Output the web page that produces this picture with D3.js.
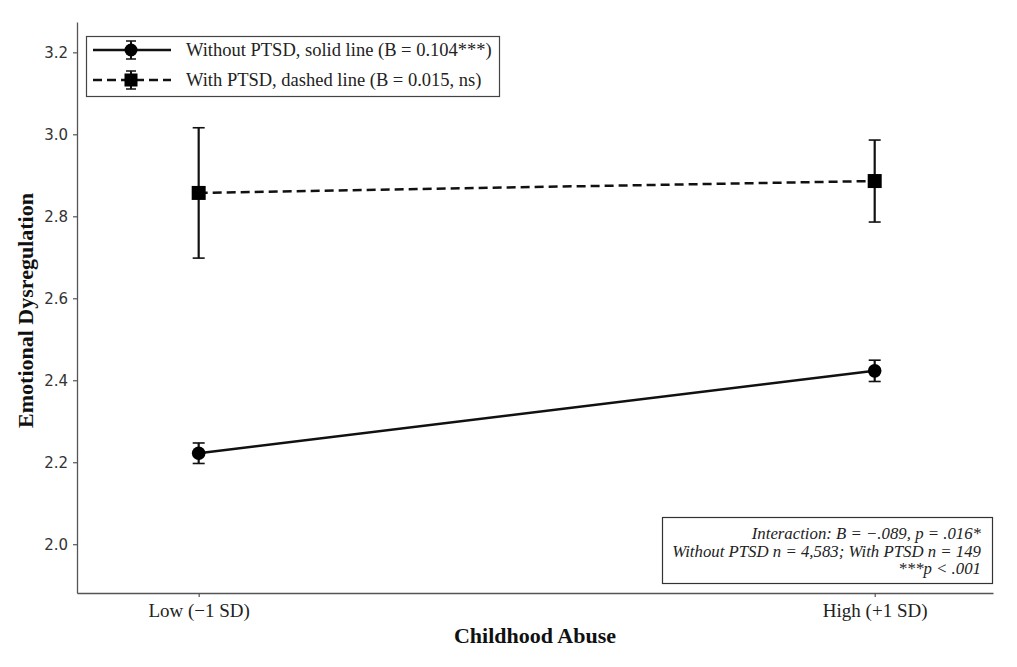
<!DOCTYPE html>
<html><head><meta charset="utf-8">
<script src="https://cdn.jsdelivr.net/npm/d3@7"></script>
<style>body{margin:0;background:#fff}</style>
</head><body>
<svg id="c" width="1017" height="667"></svg>
<script>
const categories = ["Low (\u22121 SD)", "High (+1 SD)"];
const xValues = [-1, 1];
const withoutPTSD = [2.222, 2.423];
const withoutPTSDErr = [0.025, 0.026];
const withPTSD = [2.857, 2.886];
const withPTSDErr = [0.159, 0.100];
const yTicks = [2.0, 2.2, 2.4, 2.6, 2.8, 3.0, 3.2];
const legendLabels = ["Without PTSD, solid line (B = 0.104***)", "With PTSD, dashed line (B = 0.015, ns)"];
const noteLines = ["Interaction: B = \u2212.089, p = .016*", "Without PTSD n = 4,583; With PTSD n = 149", "***p < .001"];

const svg = d3.select("#c");
const L = 77, R = 993, T = 22, B = 593;
const x = d3.scaleLinear().domain([-1.36, 1.35]).range([L, R]);
const y = d3.scaleLinear().domain([1.881, 3.274]).range([B, T]);
const serif = "'Liberation Serif','Times New Roman',serif";
const sans = "'DejaVu Sans',sans-serif";

// axes
const yAxis = svg.append("g").attr("transform", `translate(${L},0)`)
  .call(d3.axisLeft(y).tickValues(yTicks).tickFormat(d3.format(".1f")).tickSize(4).tickSizeOuter(0));
yAxis.select(".domain").attr("stroke", "#555").attr("stroke-width", 1.3);
yAxis.selectAll(".tick line").attr("stroke", "#555").attr("stroke-width", 1.2);
yAxis.selectAll(".tick text").attr("font-family", sans).attr("font-size", 15).attr("fill", "#333").attr("x", -9);

const xAxis = svg.append("g").attr("transform", `translate(0,${B})`)
  .call(d3.axisBottom(x).tickValues(xValues).tickFormat((d, i) => categories[i]).tickSize(4).tickSizeOuter(0));
xAxis.select(".domain").attr("stroke", "#555").attr("stroke-width", 1.3);
xAxis.selectAll(".tick line").attr("stroke", "#555").attr("stroke-width", 1.2);
xAxis.selectAll(".tick text").attr("font-family", serif).attr("font-size", 19).attr("fill", "#222").attr("y", 11);

// axis titles
svg.append("text").attr("x", (L + R) / 2).attr("y", 643).attr("text-anchor", "middle")
  .attr("font-family", serif).attr("font-weight", "bold").attr("font-size", 22).attr("fill", "#111").text("Childhood Abuse");
svg.append("text").attr("transform", `translate(33,${(T + B) / 2 + 3}) rotate(-90)`).attr("text-anchor", "middle")
  .attr("font-family", serif).attr("font-weight", "bold").attr("font-size", 22).attr("fill", "#111").text("Emotional Dysregulation");

const line = d3.line().x((d, i) => x(xValues[i])).y(d => y(d));
function drawSeries(vals, errs, dashed, marker) {
  const g = svg.append("g");
  vals.forEach((v, i) => {
    const cx = x(xValues[i]);
    g.append("line").attr("x1", cx).attr("x2", cx).attr("y1", y(v - errs[i])).attr("y2", y(v + errs[i]))
      .attr("stroke", "#111").attr("stroke-width", 2.2);
    [v - errs[i], v + errs[i]].forEach(e => g.append("line").attr("x1", cx - 6).attr("x2", cx + 6)
      .attr("y1", y(e)).attr("y2", y(e)).attr("stroke", "#111").attr("stroke-width", 1.6));
  });
  g.append("path").datum(vals).attr("d", line).attr("fill", "none").attr("stroke", "#111")
    .attr("stroke-width", 2.5).attr("stroke-dasharray", dashed ? "9,5" : null);
  vals.forEach((v, i) => {
    const cx = x(xValues[i]), cy = y(v);
    if (marker === "circle") g.append("circle").attr("cx", cx).attr("cy", cy).attr("r", 6.8).attr("fill", "#000");
    else g.append("rect").attr("x", cx - 7).attr("y", cy - 7).attr("width", 14).attr("height", 14).attr("fill", "#000");
  });
}
drawSeries(withoutPTSD, withoutPTSDErr, false, "circle");
drawSeries(withPTSD, withPTSDErr, true, "square");

// legend
const lg = svg.append("g");
lg.append("rect").attr("x", 86.5).attr("y", 36.5).attr("width", 413).attr("height", 60)
  .attr("fill", "#fff").attr("stroke", "#444").attr("stroke-width", 1.2);
[[50, false, "circle"], [80, true, "square"]].forEach(([ly, dashed, m], i) => {
  lg.append("line").attr("x1", 93).attr("x2", 171).attr("y1", ly).attr("y2", ly).attr("stroke", "#111")
    .attr("stroke-width", 2.5).attr("stroke-dasharray", dashed ? "9,5" : null);
  lg.append("line").attr("x1", 131).attr("x2", 131).attr("y1", ly - 9).attr("y2", ly + 9).attr("stroke", "#111").attr("stroke-width", 2);
  [ly - 9, ly + 9].forEach(e => lg.append("line").attr("x1", 126).attr("x2", 136).attr("y1", e).attr("y2", e).attr("stroke", "#111").attr("stroke-width", 1.5));
  if (m === "circle") lg.append("circle").attr("cx", 131).attr("cy", ly).attr("r", 6.5).attr("fill", "#000");
  else lg.append("rect").attr("x", 124.5).attr("y", ly - 6.5).attr("width", 13).attr("height", 13).attr("fill", "#000");
  lg.append("text").attr("x", 186).attr("y", ly + 6).attr("font-family", serif).attr("font-size", 18.5)
    .attr("fill", "#222").text(legendLabels[i]);
});

// note box
const ng = svg.append("g");
ng.append("rect").attr("x", 662.5).attr("y", 517.5).attr("width", 330).attr("height", 66)
  .attr("fill", "#fff").attr("stroke", "#333").attr("stroke-width", 1.2);
noteLines.forEach((t, i) => ng.append("text").attr("x", 981).attr("y", 539 + i * 17.5).attr("text-anchor", "end")
  .attr("font-family", serif).attr("font-style", "italic").attr("font-size", 16.8).attr("fill", "#222").text(t));
</script>
</body></html>
